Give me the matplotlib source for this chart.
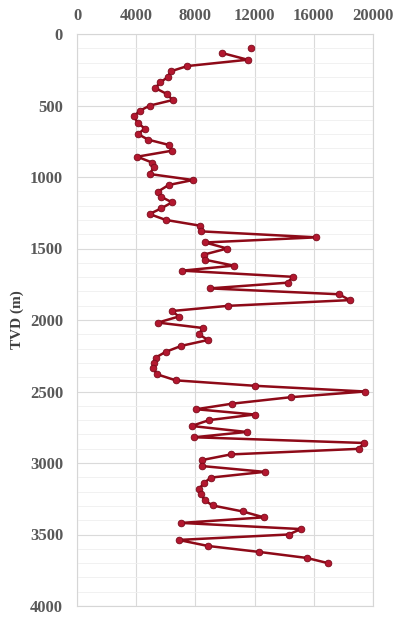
import matplotlib
matplotlib.use("Agg")
import matplotlib.pyplot as plt
from matplotlib.ticker import MultipleLocator

# Data: value (x) vs TVD in metres (y)
value = [11750, 9810, 11530, 7460, 6330, 6120, 5630, 5290, 6080, 6460,
         4900, 4230, 3840, 4110, 4590, 4110, 4810, 6220, 6420, 4070,
         5100, 5200, 4900, 7840, 6190, 5470, 5650, 6420, 5700, 4900,
         5990, 8290, 8360, 16180, 8650, 10150, 8600, 8620, 10600, 7100,
         14580, 14230, 8960, 17700, 18430, 10200, 6440, 6870, 5470, 8510,
         8240, 8840, 7040, 5990, 5310, 5200, 5130, 5420, 6670, 12000,
         19470, 14430, 10490, 8050, 12000, 8930, 7740, 11460, 7920, 19390,
         19040, 10390, 8420, 8420, 12680, 9040, 8610, 8250, 8400, 8620,
         9160, 11200, 12620, 7040, 15130, 14300, 6860, 8840, 12320, 15530,
         16950]
tvd = [100, 133, 180, 224, 261, 303, 338, 378, 420, 462,
       501, 538, 576, 622, 662, 699, 739, 776, 816, 858,
       900, 932, 979, 1021, 1056, 1102, 1137, 1177, 1219, 1259,
       1300, 1340, 1380, 1422, 1458, 1500, 1542, 1578, 1620, 1655,
       1698, 1739, 1779, 1820, 1861, 1901, 1937, 1976, 2018, 2056,
       2099, 2140, 2181, 2223, 2263, 2298, 2338, 2380, 2422, 2460,
       2500, 2540, 2585, 2624, 2661, 2700, 2741, 2783, 2820, 2860,
       2901, 2940, 2980, 3021, 3062, 3102, 3138, 3179, 3220, 3260,
       3297, 3339, 3380, 3419, 3462, 3500, 3538, 3580, 3622, 3664,
       3700]

x_ticks = [0, 4000, 8000, 12000, 16000, 20000]
y_ticks = [0, 500, 1000, 1500, 2000, 2500, 3000, 3500, 4000]

fig = plt.figure(figsize=(3.96, 6.17), dpi=100)
ax = fig.add_axes([77/396, 1-606/617, (373-77)/396, (606-34)/617])

ax.plot(value[1:], tvd[1:], color='#8E0A18', lw=1.8, zorder=3,
        solid_joinstyle='round')
ax.plot(value, tvd, linestyle='none', marker='o', ms=4.8,
        markerfacecolor='#B3172F', markeredgecolor='#7A0A1A', mew=0.6, zorder=4)

ax.set_xlim(0, 20000)
ax.set_ylim(4000, 0)
ax.set_xticks(x_ticks)
ax.set_yticks(y_ticks)
ax.yaxis.set_minor_locator(MultipleLocator(100))
ax.xaxis.tick_top()
ax.tick_params(axis='both', which='both', length=0)
ax.tick_params(axis='x', pad=7)
ax.tick_params(axis='y', pad=10)

font = dict(family='Liberation Serif', weight='bold', size=12, color='#595959')
ax.set_xticklabels([str(v) for v in x_ticks], **font)
ax.set_yticklabels([str(v) for v in y_ticks], **font)

ax.grid(True, which='major', color='#DADADA', lw=0.8)
ax.grid(True, which='minor', axis='y', color='#EFEFEF', lw=0.6)
ax.set_axisbelow(True)
for s in ax.spines.values():
    s.set_color('#D6D6D6')
    s.set_linewidth(0.8)

ax.set_ylabel('TVD (m)', fontfamily='Liberation Serif', fontweight='bold',
              fontsize=11, color='#404040', labelpad=4)

fig.savefig('out.png', dpi=100)
